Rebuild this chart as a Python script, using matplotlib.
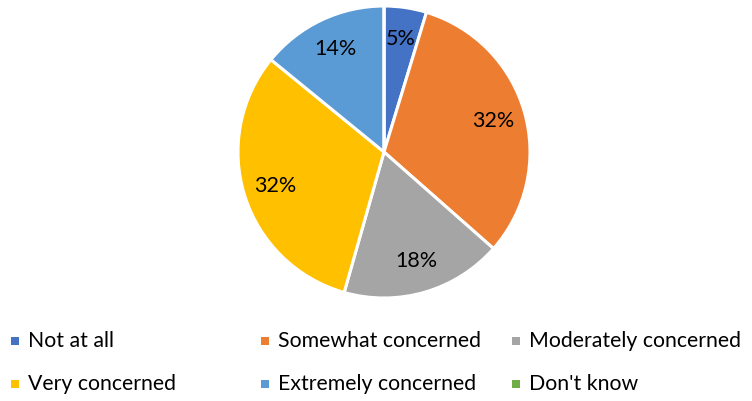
import matplotlib
matplotlib.use("Agg")
import matplotlib.pyplot as plt
from matplotlib.patches import Rectangle

categories = ["Not at all", "Somewhat concerned", "Moderately concerned",
              "Very concerned", "Extremely concerned", "Don't know"]
values = [4.7, 31.8, 17.9, 31.5, 14.1, 0.0]
colors = ["#4472C4", "#ED7D31", "#A5A5A5", "#FFC000", "#5B9BD5", "#70AD47"]

plt.rcParams['font.family'] = ['Lato', 'DejaVu Sans']

W, H = 752, 401
fig = plt.figure(figsize=(W / 100, H / 100), dpi=100)

cx, cy, r = 384, 152, 146
ax = fig.add_axes([(cx - r) / W, (H - cy - r) / H, 2 * r / W, 2 * r / H])

def fmt(p):
    return f"{p:.0f}%" if p > 0.5 else ""

wedges, texts, autotexts = ax.pie(
    values, colors=colors, startangle=90, counterclock=False,
    autopct=fmt, pctdistance=0.78,
    wedgeprops=dict(edgecolor="white", linewidth=2.2),
    textprops=dict(fontsize=15.5, color="#000000"))
ax.set_xlim(-1, 1)
ax.set_ylim(-1, 1)
ax.set_aspect("equal")
ax.axis("off")

col_x = [15, 265, 516]
row_y = [341, 384]
sq = 8
for i, (cat, c) in enumerate(zip(categories, colors)):
    x = col_x[i % 3]
    y = row_y[i // 3]
    fig.patches.append(Rectangle(((x - sq / 2) / W, (H - y - sq / 2) / H), sq / W, sq / H,
                                 transform=fig.transFigure, facecolor=c, edgecolor="none"))
    fig.text((x + 13) / W, (H - y) / H, cat, fontsize=15.3, color="#000000",
             ha="left", va="center")

fig.savefig("out.png", dpi=100, facecolor="white")
